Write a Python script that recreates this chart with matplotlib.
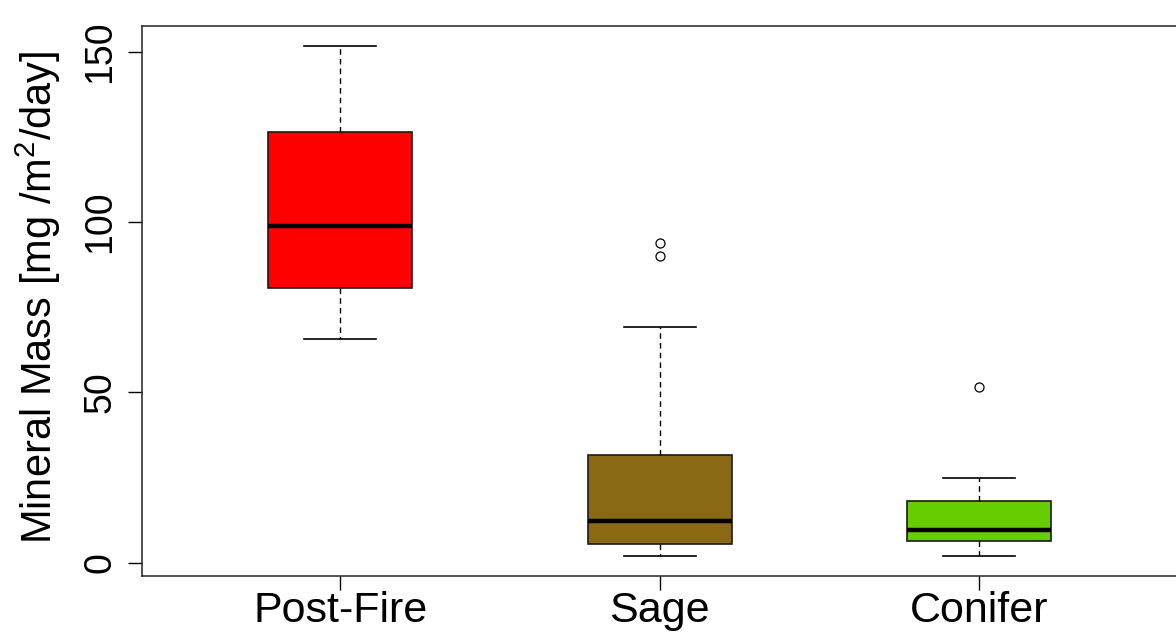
import matplotlib
matplotlib.use("Agg")
import matplotlib.pyplot as plt

plt.rcParams['font.family'] = ['Liberation Sans', 'DejaVu Sans']
plt.rcParams['mathtext.fontset'] = 'custom'
plt.rcParams['mathtext.rm'] = 'Liberation Sans'
plt.rcParams['mathtext.it'] = 'Liberation Sans'

# box stats
sites = ["Post-Fire", "Sage", "Conifer"]
whislo = [65.7, 2.1, 2.1]
q1 = [80.6, 5.6, 6.4]
med = [98.9, 12.3, 9.6]
q3 = [126.5, 31.5, 18.1]
whishi = [151.7, 69.2, 24.8]
fliers = [[], [93.8, 90.1], [51.7]]
colors = ["#FF0000", "#8B6914", "#66CD00"]

stats = []
for i in range(len(sites)):
    stats.append(dict(label=sites[i], whislo=whislo[i], q1=q1[i], med=med[i],
                      q3=q3[i], whishi=whishi[i], fliers=fliers[i]))

fig = plt.figure(figsize=(11.76, 6.34), dpi=100)
ax = fig.add_axes([142 / 1176, 58 / 634, 1035.5 / 1176, 550.3 / 634])

bp = ax.bxp(stats, positions=[1, 2, 3], widths=0.45, capwidths=0.225,
            patch_artist=True,
            boxprops=dict(edgecolor="#1a1a1a", linewidth=1.2),
            medianprops=dict(color="black", linewidth=3.2),
            whiskerprops=dict(color="black", linewidth=1.0, linestyle=(0, (4, 3))),
            capprops=dict(color="black", linewidth=1.2),
            flierprops=dict(marker="o", markerfacecolor="none", markeredgecolor="black",
                            markersize=6.5, markeredgewidth=0.9))
for patch, c in zip(bp["boxes"], colors):
    patch.set_facecolor(c)

ax.set_xlim(0.38, 3.62)
ax.set_ylim(-3.9, 157.7)
ax.set_yticks([0, 50, 100, 150])
ax.set_xticks([1, 2, 3])
ax.set_xticklabels(sites, fontsize=31)
ax.tick_params(axis='x', length=10, width=1.0, pad=1)
ax.tick_params(axis='y', length=10, width=1.0, pad=7, labelsize=27, labelrotation=90)
for lab in ax.get_yticklabels():
    lab.set_va("center")

for s in ax.spines.values():
    s.set_linewidth(1.1)
    s.set_color("#222222")

fig.text(38 / 1176, 1 - 297 / 634, r"Mineral Mass [mg /m$^{2}$/day]", rotation=90,
         ha="center", va="center", fontsize=30)

fig.savefig("out.png", dpi=100)
